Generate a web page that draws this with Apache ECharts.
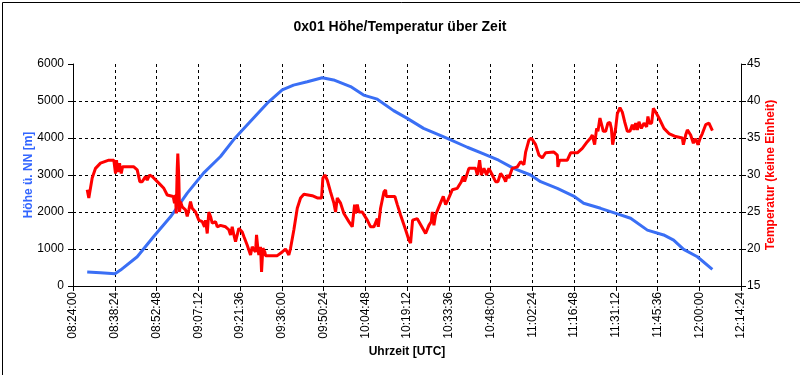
<!DOCTYPE html>
<html>
<head>
<meta charset="utf-8">
<script src="https://cdn.jsdelivr.net/npm/echarts@6/dist/echarts.min.js"></script>
<style>
html,body{margin:0;padding:0;background:#fff;}
#c{width:800px;height:375px;}
</style>
</head>
<body>
<div id="c"></div>
<script>
// ---- data ----
const xTickStart = "08:24:00";
const xTickEnd = "12:14:24";
const xTickStep = "00:14:24";
const leftTicks = [0, 1000, 2000, 3000, 4000, 5000, 6000];
const rightTicks = [15, 20, 25, 30, 35, 40, 45];

const heightTimes = ["08:28:54","08:33:29","08:38:29","08:40:23","08:46:09","08:51:46","08:57:38","09:03:24","09:09:01","09:14:53","09:19:22","09:25:14","09:31:00","09:36:10","09:40:04","09:44:48","09:49:58","09:53:52","09:59:44","10:04:13","10:08:57","10:14:34","10:19:18","10:24:55","10:33:06","10:40:00","10:45:37","10:50:48","10:55:58","11:01:50","11:05:17","11:11:03","11:16:40","11:20:07","11:25:59","11:31:45","11:36:20","11:42:06","11:47:43","11:51:10","11:54:37","11:59:21","12:04:31"];
const heightValues = [380,360,330,430,790,1330,1870,2510,3050,3500,3950,4450,4940,5300,5430,5520,5630,5570,5390,5160,5050,4740,4530,4260,3990,3750,3570,3400,3180,3000,2820,2640,2430,2235,2100,1950,1830,1510,1380,1240,990,790,450];

const tempTimes = ["08:28:54","08:29:27","08:29:48","08:30:37","08:31:46","08:33:29","08:36:21","08:38:05","08:38:40","08:39:00","08:39:27","08:40:03","08:40:38","08:41:05","08:44:59","08:46:09","08:47:03","08:47:52","08:49:01","08:49:36","08:50:24","08:51:19","08:53:36","08:55:20","08:56:30","08:58:34","08:59:01","08:59:22","08:59:36","08:59:57","09:00:09","09:00:30","09:00:45","09:01:05","09:01:40","09:02:49","09:03:24","09:03:57","09:04:32","09:05:07","09:05:41","09:06:16","09:07:24","09:08:34","09:09:22","09:09:43","09:10:18","09:10:51","09:11:26","09:12:01","09:13:10","09:13:45","09:14:53","09:16:37","09:17:45","09:18:20","09:18:55","09:19:29","09:20:04",
"09:20:39","09:21:12","09:22:22","09:22:56","09:24:06","09:25:14","09:25:49","09:26:23","09:26:58","09:27:18","09:27:45","09:28:06","09:28:41","09:29:02","09:29:29","09:30:10","09:30:25","09:34:27","09:36:10","09:37:19","09:38:27","09:39:02","09:40:11","09:41:21","09:42:29","09:43:38","09:46:31","09:48:15","09:49:44","09:50:11","09:50:52","09:51:42","09:52:50","09:53:59","09:54:34","09:55:09","09:56:17","09:57:26","09:59:09","10:00:19","10:01:07","10:01:28","10:02:03","10:02:36","10:03:46","10:05:30","10:06:38","10:07:47","10:08:57","10:09:18","10:10:05","10:11:14","10:11:49","10:12:03","10:15:01","10:15:51","10:16:59","10:18:43","10:19:51","10:20:26","10:21:08","10:22:45","10:25:37","10:26:12","10:26:45","10:27:35","10:27:55","10:28:29","10:29:04","10:30:12","10:31:43","10:32:31","10:33:18","10:34:49","10:36:33","10:37:56","10:38:37","10:39:04","10:40:33","10:42:52","10:43:27","10:44:15","10:44:50","10:45:44","10:46:39","10:47:27","10:48:37","10:49:46","10:50:33","10:51:29","10:52:38","10:53:13","10:53:48","10:54:21","10:55:31","10:57:15","10:58:23","10:59:32","11:00:07","11:01:15","11:02:05","11:03:34","11:04:42","11:05:52","11:07:01","11:09:53","11:11:03","11:11:15","11:11:51","11:14:30","11:15:38","11:17:57","11:19:40","11:21:24","11:22:32","11:23:07","11:23:55","11:24:36","11:25:03","11:25:45","11:26:20","11:26:55","11:27:43","11:28:30","11:29:12","11:29:41","11:30:08","11:30:35","11:31:10","11:31:45","11:32:39","11:33:28","11:34:16","11:35:12","11:36:06","11:36:55","11:37:29","11:38:04","11:38:39","11:39:12","11:40:02","11:40:56","11:41:51","11:42:18","11:42:47","11:43:35","11:44:10","11:44:58","11:46:06","11:47:50","11:49:33","11:51:52","11:54:10","11:54:31","11:55:19","11:55:54","11:57:02","11:57:58","11:58:46","11:59:33","12:00:15","12:01:04","12:02:13","12:03:21","12:04:32"];
const tempValues = [28.0,26.9,27.7,29.6,30.9,31.6,32.0,32.0,30.2,32.0,30.4,31.6,30.2,31.1,31.1,30.7,29.1,29.1,29.8,29.3,30.0,29.8,28.9,28.2,27.3,27.1,26.2,27.3,24.8,30.9,32.9,29.6,25.0,26.4,25.7,25.3,24.4,25.3,26.4,25.5,25.7,25.0,23.9,23.7,23.0,23.9,22.1,25.0,24.4,23.5,23.7,23.0,23.2,23.0,22.6,21.9,23.0,21.9,21.0,
20.8,22.8,22.3,21.7,20.5,19.2,20.3,19.9,19.6,21.9,20.1,19.2,20.3,16.9,20.1,19.6,19.1,19.1,19.6,20.0,19.2,20.1,22.6,25.5,26.9,27.4,27.2,26.9,26.9,29.6,30.0,29.3,27.7,26.2,25.0,26.9,26.2,24.8,23.7,23.0,26.0,24.8,26.0,25.0,25.0,23.9,23.0,23.0,24.1,23.0,25.5,27.7,28.0,27.1,27.1,26.0,24.6,22.6,21.2,20.8,23.9,24.1,22.1,21.9,23.2,23.7,25.0,23.2,24.6,25.7,27.1,26.0,26.6,28.0,28.2,29.1,29.8,29.1,30.9,30.9,30.0,32.0,30.0,30.9,30.0,30.9,30.0,29.1,29.1,30.2,29.6,29.1,30.0,29.6,30.9,31.1,31.8,31.4,33.1,34.7,35.0,34.1,32.7,32.3,33.0,33.1,32.7,31.1,32.0,32.0,33.0,33.0,33.6,34.5,35.0,35.4,34.1,36.3,35.9,37.7,37.9,35.9,35.9,37.0,37.1,36.3,34.1,34.1,36.3,38.3,39.1,38.5,37.2,35.9,35.9,36.8,36.1,37.0,36.1,37.2,36.3,37.0,36.5,37.9,37.0,37.0,39.0,38.5,37.7,36.3,35.6,35.2,35.0,34.1,35.4,36.1,35.4,34.3,34.9,34.1,34.9,35.6,36.8,37.0,36.0];

// ---- helpers ----
function toSec(s){const p=s.split(':').map(Number);return p[0]*3600+p[1]*60+p[2];}
function pad(n){return (n<10?'0':'')+n;}
function fmt(v){v=Math.round(v);const h=Math.floor(v/3600),m=Math.floor((v%3600)/60),s=v%60;return pad(h)+':'+pad(m)+':'+pad(s);}
function zip(ts,vs){return ts.map((t,i)=>[toSec(t),vs[i]]);}

const font = 'Arial, "Liberation Sans", sans-serif';
const chart = echarts.init(document.getElementById('c'), null, {renderer:'canvas'});
const splitColors = leftTicks.map((v,i)=> i===leftTicks.length-1 ? 'rgba(0,0,0,0)' : '#000');

chart.setOption({
  animation:false,
  backgroundColor:'#fff',
  title:{
    text:'0x01 Höhe/Temperatur über Zeit',
    left:'center', top:15,
    textStyle:{fontFamily:font,fontSize:14,fontWeight:'bold',color:'#000'}
  },
  grid:{left:73,right:59,top:64,bottom:89,containLabel:false},
  xAxis:{
    type:'value',
    min:toSec(xTickStart), max:toSec(xTickEnd), interval:toSec(xTickStep),
    name:'Uhrzeit [UTC]', nameLocation:'middle', nameGap:60, nameMoveOverlap:false,
    nameTextStyle:{fontFamily:font,fontSize:12,fontWeight:'bold',color:'#000'},
    axisLine:{show:true,onZero:false,lineStyle:{color:'#000',width:1}},
    axisTick:{show:true,length:5,lineStyle:{color:'#000'}},
    axisLabel:{rotate:90,margin:6,fontFamily:font,fontSize:12,color:'#000',formatter:fmt,showMinLabel:true,showMaxLabel:true},
    splitLine:{show:true,lineStyle:{color:'#000',type:[3,3],width:1}}
  },
  yAxis:[{
    type:'value', min:leftTicks[0], max:leftTicks[leftTicks.length-1], interval:1000,
    name:'Höhe ü. NN [m]', nameLocation:'middle', nameGap:38, nameRotate:90, nameMoveOverlap:false,
    nameTextStyle:{fontFamily:font,fontSize:12,fontWeight:'bold',color:'#3366ff'},
    axisLine:{show:true,lineStyle:{color:'#000',width:1}},
    axisTick:{show:true,length:5,lineStyle:{color:'#000'}},
    axisLabel:{margin:9,fontFamily:font,fontSize:12,color:'#000',formatter:(v)=>String(v)},
    splitLine:{show:true,lineStyle:{color:splitColors,type:[3,3],width:1}}
  },{
    type:'value', min:rightTicks[0], max:rightTicks[rightTicks.length-1], interval:5,
    position:'right',
    name:'Temperatur (keine Einheit)', nameLocation:'middle', nameGap:24, nameRotate:90, nameMoveOverlap:false,
    nameTextStyle:{fontFamily:font,fontSize:12,fontWeight:'bold',color:'#ff0000'},
    axisLine:{show:true,lineStyle:{color:'#000',width:1}},
    axisTick:{show:true,length:5,lineStyle:{color:'#000'}},
    axisLabel:{margin:6,fontFamily:font,fontSize:12,color:'#000',formatter:(v)=>String(v)},
    splitLine:{show:false}
  }],
  series:[{
    type:'line', name:'Höhe', yAxisIndex:0,
    data:zip(heightTimes,heightValues),
    showSymbol:false, symbol:'none',
    lineStyle:{color:'#3a6ff5',width:3},
    itemStyle:{color:'#3a6ff5'}
  },{
    type:'line', name:'Temperatur', yAxisIndex:1,
    data:zip(tempTimes,tempValues),
    showSymbol:false, symbol:'none',
    lineStyle:{color:'#ff0000',width:3},
    itemStyle:{color:'#ff0000'}
  }],
  graphic:[{
    type:'rect', left:0, top:0, z:100, silent:true,
    shape:{x:0.5,y:0.5,width:799,height:374},
    style:{fill:'none',stroke:'#000',lineWidth:1}
  }]
});
</script>
</body>
</html>
